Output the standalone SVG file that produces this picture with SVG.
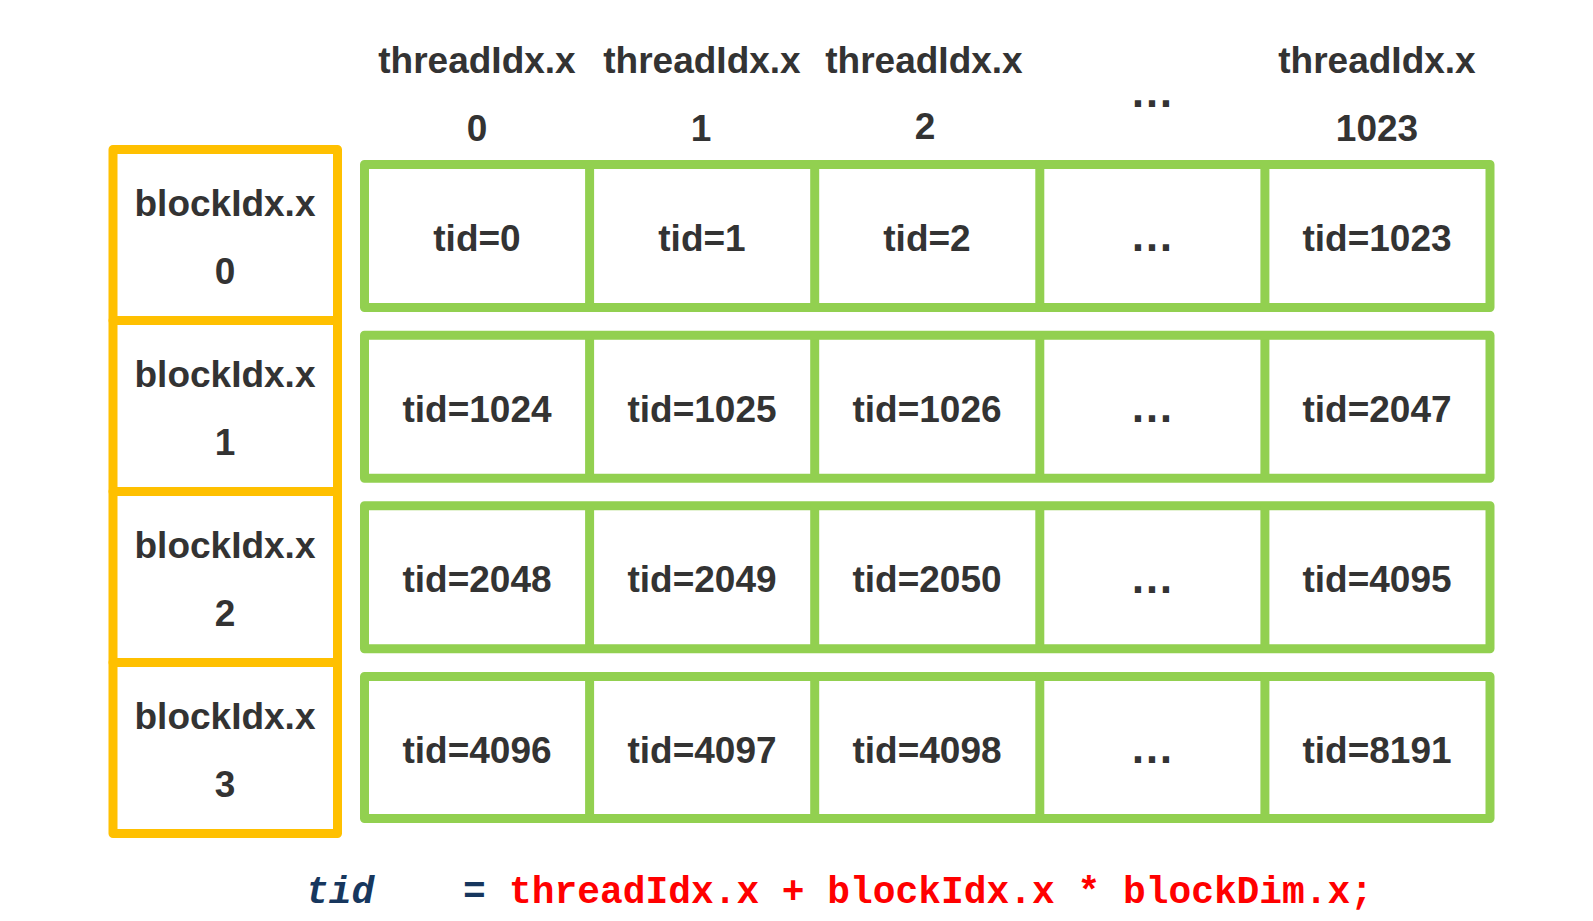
<svg xmlns="http://www.w3.org/2000/svg" width="1593" height="921" viewBox="0 0 1593 921">
<style>
.blk{fill:#fff;stroke:#FFC000;stroke-width:9;stroke-linejoin:round}
.row{fill:#fff;stroke:#92D050;stroke-width:9;stroke-linejoin:round}
.div{stroke:#92D050;stroke-width:9}
.t{font-family:"Liberation Sans",Arial,sans-serif;font-weight:bold;font-size:37px;fill:#333333;text-anchor:middle}
.dots{font-family:"Liberation Sans",Arial,sans-serif;font-weight:bold;font-size:44px;fill:#333333;text-anchor:middle}
.code{font-family:"Liberation Mono","Courier New",monospace;font-weight:bold;font-size:37.9px}
</style>
<rect width="1593" height="921" fill="#fff"/>
<g id="header">
<text class="t" x="477" y="73">threadIdx.x</text>
<text class="t" x="702" y="73">threadIdx.x</text>
<text class="t" x="924" y="73">threadIdx.x</text>
<text class="t" x="1377" y="73">threadIdx.x</text>
<text class="t" x="477" y="141">0</text>
<text class="t" x="701" y="141">1</text>
<text class="t" x="925" y="139">2</text>
<text class="t" x="1377" y="141">1023</text>
<text class="dots" x="1152" y="107">…</text>
</g>
<g id="block0"><rect class="blk" x="113" y="149.5" width="224.5" height="171"/><text class="t" x="225" y="216">blockIdx.x</text><text class="t" x="225" y="284">0</text></g>
<g id="block1"><rect class="blk" x="113" y="320.5" width="224.5" height="171"/><text class="t" x="225" y="387">blockIdx.x</text><text class="t" x="225" y="455">1</text></g>
<g id="block2"><rect class="blk" x="113" y="491.5" width="224.5" height="171"/><text class="t" x="225" y="558">blockIdx.x</text><text class="t" x="225" y="626">2</text></g>
<g id="block3"><rect class="blk" x="113" y="662.5" width="224.5" height="171"/><text class="t" x="225" y="729">blockIdx.x</text><text class="t" x="225" y="797">3</text></g>
<g id="row0">
<rect class="row" x="364.5" y="164.5" width="1125.5" height="143"/>
<path class="div" d="M589.6 164.5V307.5M814.7 164.5V307.5M1039.8 164.5V307.5M1264.9 164.5V307.5"/>
<text class="t" x="477" y="251">tid=0</text><text class="t" x="702" y="251">tid=1</text><text class="t" x="927" y="251">tid=2</text><text class="dots" x="1152" y="251">…</text><text class="t" x="1377" y="251">tid=1023</text>
</g>
<g id="row1">
<rect class="row" x="364.5" y="335.2" width="1125.5" height="143"/>
<path class="div" d="M589.6 335.2V478.2M814.7 335.2V478.2M1039.8 335.2V478.2M1264.9 335.2V478.2"/>
<text class="t" x="477" y="421.5">tid=1024</text><text class="t" x="702" y="421.5">tid=1025</text><text class="t" x="927" y="421.5">tid=1026</text><text class="dots" x="1152" y="422">…</text><text class="t" x="1377" y="421.5">tid=2047</text>
</g>
<g id="row2">
<rect class="row" x="364.5" y="505.8" width="1125.5" height="143"/>
<path class="div" d="M589.6 505.8V648.8M814.7 505.8V648.8M1039.8 505.8V648.8M1264.9 505.8V648.8"/>
<text class="t" x="477" y="592">tid=2048</text><text class="t" x="702" y="592">tid=2049</text><text class="t" x="927" y="592">tid=2050</text><text class="dots" x="1152" y="592.5">…</text><text class="t" x="1377" y="592">tid=4095</text>
</g>
<g id="row3">
<rect class="row" x="364.5" y="676.5" width="1125.5" height="142"/>
<path class="div" d="M589.6 676.5V818.5M814.7 676.5V818.5M1039.8 676.5V818.5M1264.9 676.5V818.5"/>
<text class="t" x="477" y="762.5">tid=4096</text><text class="t" x="702" y="762.5">tid=4097</text><text class="t" x="927" y="762.5">tid=4098</text><text class="dots" x="1152" y="763">…</text><text class="t" x="1377" y="762.5">tid=8191</text>
</g>
<g id="formula">
<text class="code" x="306" y="903" fill="#17375E" font-style="italic">tid</text>
<text class="code" x="463" y="903" fill="#17375E">=</text>
<text class="code" x="509" y="903" fill="#FF0000">threadIdx.x + blockIdx.x * blockDim.x;</text>
</g>
</svg>
